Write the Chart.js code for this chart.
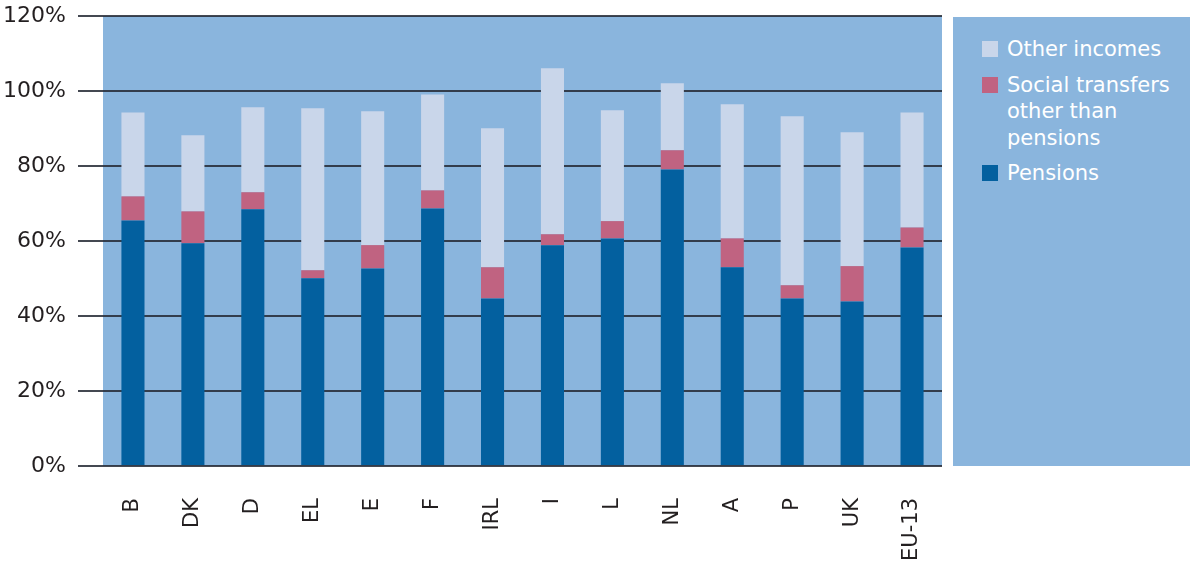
<!DOCTYPE html>
<html>
<head>
<meta charset="utf-8">
<script src="https://cdn.jsdelivr.net/npm/chart.js@4"></script>
<style>
  body { margin: 0; background: #fff; }
  #wrap { position: relative; width: 1193px; height: 566px; }
  #legend {
    position: absolute; left: 953px; top: 17px; width: 237px; height: 449px;
    background: #8ab5dd; box-sizing: border-box; padding: 19px 0 0 29px;
    font-family: "DejaVu Sans", sans-serif; font-size: 21px; line-height: 26.5px; color: #fff;
  }
  .item { display: flex; align-items: flex-start; margin-bottom: 9px; }
  .box { width: 16px; height: 16px; margin: 5px 9px 0 0; flex: none; }
  .txt { width: 178px; }
</style>
</head>
<body>
<div id="wrap">
  <canvas id="chart" width="1193" height="566"></canvas>
  <div id="legend"></div>
</div>
<script>
const countries = ["B", "DK", "D", "EL", "E", "F", "IRL", "I", "L", "NL", "A", "P", "UK", "EU-13"];
const pensions = [65.5, 59.4, 68.5, 50.1, 52.7, 68.7, 44.7, 58.9, 60.7, 79.1, 53.0, 44.7, 43.9, 58.3];
const socialTransfers = [6.4, 8.5, 4.5, 2.1, 6.2, 4.8, 8.3, 2.9, 4.6, 5.1, 7.7, 3.5, 9.4, 5.3];
const otherIncomes = [22.4, 20.3, 22.7, 43.2, 35.7, 25.6, 37.1, 44.3, 29.6, 17.9, 35.8, 45.1, 35.7, 30.7];
const yTicks = [0, 20, 40, 60, 80, 100, 120];

const plotBg = {
  id: "plotBg",
  beforeDraw(chart) {
    const { ctx, chartArea: a } = chart;
    ctx.save();
    ctx.fillStyle = "#8ab5dd";
    ctx.fillRect(a.left, a.top, a.right - a.left, a.bottom - a.top);
    ctx.restore();
  }
};

const ctx = document.getElementById("chart").getContext("2d");
const chart = new Chart(ctx, {
  type: "bar",
  data: {
    labels: countries,
    datasets: [
      { label: "Pensions", data: pensions, backgroundColor: "#03609f" },
      { label: "Social transfers other than pensions", data: socialTransfers, backgroundColor: "#c06381" },
      { label: "Other incomes", data: otherIncomes, backgroundColor: "#c9d6ea" }
    ]
  },
  options: {
    responsive: false,
    animation: false,
    layout: { padding: { top: 16, right: 251, left: 0, bottom: 0 } },
    plugins: { legend: { display: false }, tooltip: { enabled: false } },
    datasets: { bar: { barPercentage: 0.385, categoryPercentage: 1 } },
    scales: {
      x: {
        stacked: true,
        grid: { display: false, drawTicks: false },
        border: { display: false },
        ticks: {
          autoSkip: false, minRotation: 90, maxRotation: 90, padding: 32,
          color: "#231f20", font: { family: "DejaVu Sans", size: 21 }
        },
        afterFit(scale) { scale.height = 100; }
      },
      y: {
        stacked: true,
        min: 0,
        max: 120,
        afterBuildTicks(scale) { scale.ticks = yTicks.map(v => ({ value: v })); },
        grid: { color: "rgba(35,40,50,0.85)", lineWidth: 2, tickLength: 25 },
        border: { display: false },
        ticks: {
          padding: 12, color: "#231f20", font: { family: "DejaVu Sans", size: 22 },
          callback: function(value) { return value + "%"; }
        },
        afterFit(scale) {
          scale.width = 103;
          scale.paddingTop = 0;
          scale.paddingBottom = 0;
        }
      }
    }
  },
  plugins: [plotBg]
});

// legend panel built from the datasets, top series first
const legend = document.getElementById("legend");
chart.data.datasets.slice().reverse().forEach(ds => {
  const item = document.createElement("div");
  item.className = "item";
  item.innerHTML = '<div class="box" style="background:' + ds.backgroundColor + '"></div><div class="txt">' + ds.label + "</div>";
  legend.appendChild(item);
});
</script>
</body>
</html>
